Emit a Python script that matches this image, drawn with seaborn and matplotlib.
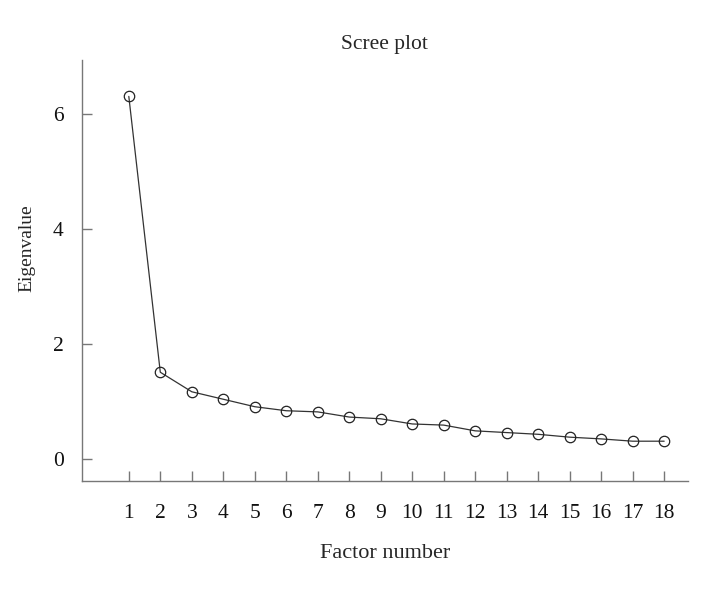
import pandas as pd
import matplotlib.pyplot as plt
import seaborn as sns

# scree plot data
factors = list(range(1, 19))
eigenvalues = [6.31, 1.51, 1.17, 1.04, 0.91, 0.84, 0.82, 0.73, 0.70,
               0.61, 0.59, 0.49, 0.46, 0.43, 0.38, 0.35, 0.31, 0.31]
yticks = [0, 2, 4, 6]

df = pd.DataFrame({'factor': factors, 'eigenvalue': eigenvalues})

sns.set_style('ticks')
plt.rcParams['font.family'] = ['Liberation Serif', 'DejaVu Serif']

fig = plt.figure(figsize=(7.12, 5.9), dpi=100)
ax = fig.add_axes([0.115, 0.185, 0.851, 0.713])

sns.lineplot(data=df, x='factor', y='eigenvalue', ax=ax, color='#333333',
             linewidth=0.9, marker='o', markersize=7.5,
             markerfacecolor='none', markeredgecolor='#222222',
             markeredgewidth=0.9)

ax.set_xlim(-0.49, 18.75)
ax.set_ylim(-0.38, 6.94)
ax.set_xticks(factors)
ax.set_yticks(yticks)
# ticks point inward like the original
ax.tick_params(axis='both', direction='in', colors='#777777',
               labelcolor='#111111', labelsize=15.5, length=7, width=1)
ax.tick_params(axis='x', pad=17)
ax.tick_params(axis='y', pad=13)

for s in ['top', 'right']:
    ax.spines[s].set_visible(False)
for s in ['left', 'bottom']:
    ax.spines[s].set_color('#777777')
    ax.spines[s].set_linewidth(1)

ax.set_title('Scree plot', fontsize=15.5, pad=8)
ax.set_xlabel('Factor number', fontsize=16)
ax.set_ylabel('Eigenvalue', fontsize=14)
ax.xaxis.set_label_coords(0.5, -0.172)
ax.xaxis.label.set_va('center')
ax.yaxis.set_label_coords(-0.090, 0.553)
ax.yaxis.label.set_va('center')

fig.savefig('out.png', dpi=100)
